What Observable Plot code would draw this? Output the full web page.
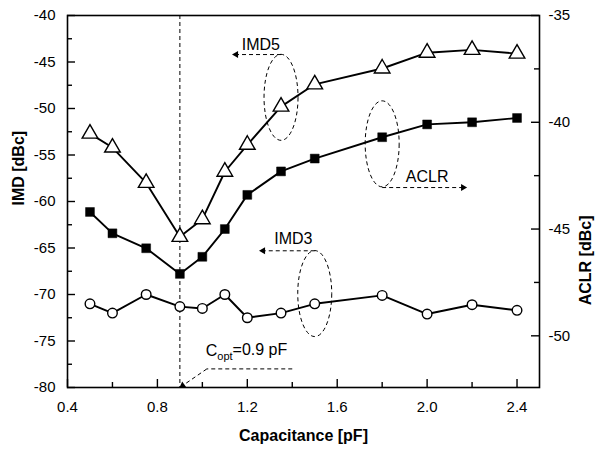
<!DOCTYPE html>
<html><head><meta charset="utf-8">
<script src="https://cdn.jsdelivr.net/npm/d3@7"></script>
<script src="https://cdn.jsdelivr.net/npm/@observablehq/plot@0.6"></script>
<style>body{margin:0;background:#fff}#chart{width:600px;height:452px}</style>
</head><body><div id="chart"></div>
<script>
// ---- data ----
const capacitance = [0.5, 0.6, 0.75, 0.9, 1.0, 1.1, 1.2, 1.35, 1.5, 1.8, 2.0, 2.2, 2.4];
const imd5 = [-52.7, -54.2, -58.0, -63.8, -61.9, -56.8, -53.9, -49.8, -47.4, -45.7, -44.0, -43.7, -44.1];
const aclr = [-44.2, -45.2, -45.9, -47.1, -46.3, -45.0, -43.4, -42.3, -41.7, -40.7, -40.1, -40.0, -39.8];
const imd3 = [-71.0, -72.0, -70.0, -71.3, -71.5, -70.0, -72.5, -72.0, -71.0, -70.1, -72.1, -71.1, -71.7];

const xTicks = [0.4, 0.8, 1.2, 1.6, 2.0, 2.4];
const xMinorTicks = [0.6, 1.0, 1.4, 1.8, 2.2];
const leftTicks = [-80, -75, -70, -65, -60, -55, -50, -45, -40];
const leftMinorTicks = [-77.5, -72.5, -67.5, -62.5, -57.5, -52.5, -47.5, -42.5];
const rightTicks = [-50, -45, -40, -35];
const rightMinorTicks = [-47.5, -42.5, -37.5];
const xDomain = [0.4, 2.5];
const leftDomain = [-80, -40];
const rightDomain = [-52.42, -35];
const cOpt = 0.9;

// annotations (data units, left axis)
const groupLabels = ["IMD5", "ACLR", "IMD3"];
const ellipseX = [1.35, 1.8, 1.5];
const ellipseY = [-48.8, -53.8, -69.9];
const arrowX1 = [1.35, 1.8, 1.5];
const arrowX2 = [1.15, 2.16, 1.27];
const arrowY = [-44.2, -58.5, -65.3];
const arrowDir = [-90, 90, -90];
const labelX = [1.26, 2.0, 1.405];
const labelY = [-43.2, -57.4, -64.0];
const coptLabel = "Copt=0.9 pF";
const coptLeaderX = [1.40, 1.02, 0.912];
const coptLeaderY = [-78.0, -78.0, -79.8];

// ---- build ----
const W = 600, H = 452, mL = 67, mR = 61, mT = 15, mB = 65;
const fw = W - mL - mR, fh = H - mT - mB;
const toLeft = d3.scaleLinear(rightDomain, leftDomain);
const rows = capacitance.map((c, i) => ({c, imd5: imd5[i], aclr: toLeft(aclr[i]), imd3: imd3[i]}));
const groups = groupLabels.map((g, i) => ({g, ex: ellipseX[i], ey: ellipseY[i], x1: arrowX1[i], x2: arrowX2[i], ay: arrowY[i], dir: arrowDir[i], lx: labelX[i], ly: labelY[i]}));
const leader = coptLeaderX.slice(0, -1).map((x, i) => ({x1: x, y1: coptLeaderY[i], x2: coptLeaderX[i + 1], y2: coptLeaderY[i + 1]}));
const leaderTip = [{x: coptLeaderX[2], y: coptLeaderY[2]}];

const ellipseSymbol = {
  draw(ctx) {
    const rx = 17, ry = 43, k = 0.5523;
    ctx.moveTo(rx, 0);
    ctx.bezierCurveTo(rx, ry * k, rx * k, ry, 0, ry);
    ctx.bezierCurveTo(-rx * k, ry, -rx, ry * k, -rx, 0);
    ctx.bezierCurveTo(-rx, -ry * k, -rx * k, -ry, 0, -ry);
    ctx.bezierCurveTo(rx * k, -ry, rx, -ry * k, rx, 0);
    ctx.closePath();
  }
};
const tk = {stroke: "black", strokeWidth: 1.4};
const inTicks = (data, side, len) => {
  if (side === "bottom") return Plot.tickX(data, {...tk, x: d => d, insetTop: fh - len});
  if (side === "left") return Plot.tickY(data, {...tk, y: d => d, insetRight: fw - len});
  return Plot.tickY(data, {...tk, y: d => d, insetLeft: fw - len});
};

const dash = "4,3";
const svg = Plot.plot({
  width: W, height: H,
  marginLeft: mL, marginRight: mR, marginTop: mT, marginBottom: mB,
  style: {fontFamily: "'Liberation Sans', Arial, sans-serif", fontSize: "15px", color: "black", background: "white"},
  x: {domain: xDomain},
  y: {domain: leftDomain},
  marks: [
    Plot.ruleX([cOpt], {stroke: "black", strokeWidth: 1, strokeDasharray: dash}),
    Plot.axisX(xTicks, {tickSize: 0, tickPadding: 14, fontSize: 15, tickFormat: d3.format(".1f"), label: null}),
    Plot.axisY(leftTicks, {tickSize: 0, tickPadding: 12, fontSize: 15, tickFormat: d => String(d), label: null}),
    Plot.axisY(rightTicks.map(toLeft), {anchor: "right", tickSize: 0, tickPadding: 9, fontSize: 15, tickFormat: d => String(Math.round(toLeft.invert(d))), label: null}),
    inTicks(xTicks, "bottom", 8),
    inTicks(xMinorTicks, "bottom", 5),
    inTicks(leftTicks, "left", 8),
    inTicks(leftMinorTicks, "left", 5),
    inTicks(rightTicks.map(toLeft), "right", 8),
    inTicks(rightMinorTicks.map(toLeft), "right", 5),
    Plot.frame({stroke: "black", strokeWidth: 1.6}),
    Plot.text(["Capacitance [pF]"], {text: d => d, frameAnchor: "bottom", dy: 53, fontWeight: "bold", fontSize: 16}),
    Plot.text(["IMD [dBc]"], {text: d => d, frameAnchor: "left", dx: -49, dy: 4, rotate: -90, fontWeight: "bold", fontSize: 16}),
    Plot.text(["ACLR [dBc]"], {text: d => d, frameAnchor: "right", dx: 46, dy: 14, rotate: -90, fontWeight: "bold", fontSize: 16}),
    Plot.dot(groups, {x: "ex", y: "ey", symbol: ellipseSymbol, r: 5, stroke: "black", strokeWidth: 1, strokeDasharray: dash, fill: "none"}),
    Plot.link(groups, {x1: "x1", x2: "x2", y1: "ay", y2: "ay", stroke: "black", strokeWidth: 1, strokeDasharray: dash}),
    Plot.dot(groups, {x: "x2", y: "ay", symbol: "triangle", r: 2.6, rotate: "dir", fill: "black", stroke: "none"}),
    Plot.text(groups, {x: "lx", y: "ly", text: "g", fontSize: 16}),
    Plot.link(leader, {x1: "x1", y1: "y1", x2: "x2", y2: "y2", stroke: "black", strokeWidth: 1, strokeDasharray: dash}),
    Plot.dot(leaderTip, {x: "x", y: "y", symbol: "triangle", r: 2.6, rotate: 235, fill: "black", stroke: "none"}),
    Plot.text([coptLabel], {text: d => d, x: 1.015, y: -76.1, textAnchor: "start", fontSize: 16}),
    Plot.line(rows, {x: "c", y: "imd5", stroke: "black", strokeWidth: 1.9}),
    Plot.line(rows, {x: "c", y: "aclr", stroke: "black", strokeWidth: 1.9}),
    Plot.line(rows, {x: "c", y: "imd3", stroke: "black", strokeWidth: 1.9}),
    Plot.dot(rows, {x: "c", y: "imd5", symbol: "triangle", r: 5.8, fill: "white", stroke: "black", strokeWidth: 1.4}),
    Plot.dot(rows, {x: "c", y: "aclr", symbol: "square", r: 5.0, fill: "black", stroke: "black", strokeWidth: 0.5}),
    Plot.dot(rows, {x: "c", y: "imd3", symbol: "circle", r: 4.8, fill: "white", stroke: "black", strokeWidth: 1.4})
  ]
});

d3.select(svg).selectAll("text").filter(function () { return this.textContent === coptLabel; }).each(function () {
  const t = d3.select(this);
  t.text("");
  t.append("tspan").text("C");
  t.append("tspan").attr("dy", "0.3em").attr("font-size", "11px").text("opt");
  t.append("tspan").attr("dy", "-0.3em").text("=0.9 pF");
});

document.getElementById("chart").append(svg);
</script>
</body></html>
